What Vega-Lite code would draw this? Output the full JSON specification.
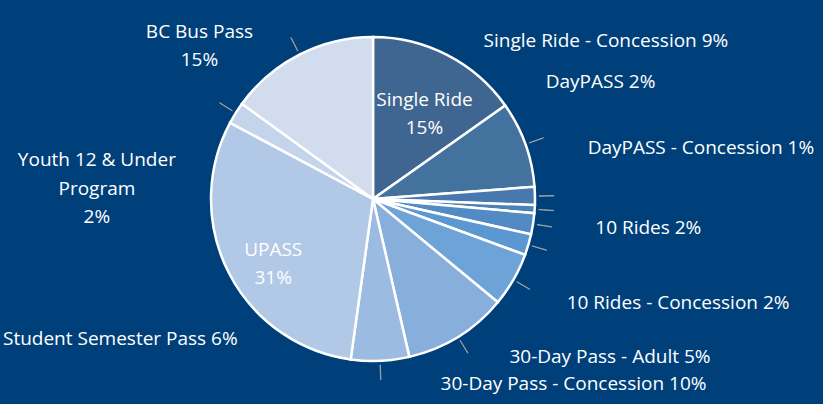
{
  "$schema": "https://vega.github.io/schema/vega-lite/v6.json",
  "width": 746,
  "height": 398,
  "autosize": {"type": "none"},
  "padding": {"left": 0, "top": 0, "right": 77, "bottom": 6},
  "background": "#00407A",
  "view": {"stroke": null},
  "data": {
    "values": [
      {"idx": 1, "cat": "Single Ride", "value": 15.2, "label": "Single Ride\n15%"},
      {"idx": 2, "cat": "Single Ride - Concession", "value": 8.6, "label": "Single Ride - Concession 9%"},
      {"idx": 3, "cat": "DayPASS", "value": 1.8, "label": "DayPASS 2%"},
      {"idx": 4, "cat": "DayPASS - Concession", "value": 0.8, "label": "DayPASS - Concession 1%"},
      {"idx": 5, "cat": "10 Rides", "value": 2.1, "label": "10 Rides 2%"},
      {"idx": 6, "cat": "10 Rides - Concession", "value": 2.1, "label": "10 Rides - Concession 2%"},
      {"idx": 7, "cat": "30-Day Pass - Adult", "value": 5.4, "label": "30-Day Pass - Adult 5%"},
      {"idx": 8, "cat": "30-Day Pass - Concession", "value": 10.4, "label": "30-Day Pass - Concession 10%"},
      {"idx": 9, "cat": "Student Semester Pass", "value": 5.8, "label": "Student Semester Pass 6%"},
      {"idx": 10, "cat": "UPASS", "value": 30.6, "label": "UPASS\n31%"},
      {"idx": 11, "cat": "Youth 12 & Under Program", "value": 2.2, "label": "Youth 12 & Under\nProgram\n2%"},
      {"idx": 12, "cat": "BC Bus Pass", "value": 15.0, "label": "BC Bus Pass\n15%"}
    ]
  },
  "transform": [
    {"window": [{"op": "sum", "field": "value", "as": "cum"}], "sort": [{"field": "idx"}], "frame": [null, 0]},
    {"calculate": "datum.cum - datum.value", "as": "start"},
    {"calculate": "datum.cum - datum.value / 2", "as": "mid"},
    {"calculate": "datum.mid + 0.03", "as": "mid2"},
    {"calculate": "datum.cat != 'Single Ride' && datum.cat != 'UPASS' ? 1 : 0", "as": "out"},
    {"calculate": "datum.mid < 47 ? 1 : 0", "as": "side"},
    {"window": [{"op": "row_number", "as": "rk"}, {"op": "count", "as": "n"}], "groupby": ["out", "side"], "sort": [{"field": "idx"}], "frame": [null, null]},
    {"calculate": "datum.side == 1 ? 9.72 + (datum.rk - 1) * 34.72 / (datum.n - 1) : 62.22 + (datum.rk - 1) * 27.22 / (datum.n - 1)", "as": "lab"}
  ],
  "layer": [
    {
      "mark": {"type": "arc", "radius": 162, "stroke": "#FFFFFF", "strokeWidth": 2.5},
      "encoding": {
        "theta": {"field": "start", "type": "quantitative", "scale": {"domain": [0, 100]}},
        "theta2": {"field": "cum"},
        "color": {
          "field": "cat",
          "type": "nominal",
          "legend": null,
          "scale": {
            "domain": ["Single Ride", "Single Ride - Concession", "DayPASS", "DayPASS - Concession", "10 Rides", "10 Rides - Concession", "30-Day Pass - Adult", "30-Day Pass - Concession", "Student Semester Pass", "UPASS", "Youth 12 & Under Program", "BC Bus Pass"],
            "range": ["#3F6690", "#44729F", "#4879AE", "#4C81B8", "#528BC4", "#5B97D0", "#6EA3D8", "#88AFDB", "#9CBBE2", "#B1C8E6", "#C4D4EB", "#D1DDEE"]
          }
        }
      }
    },
    {
      "transform": [{"filter": "datum.out == 1"}],
      "mark": {
        "type": "arc",
        "radius2": 166,
        "radius": 181,
        "fill": "#A6A6A6",
        "stroke": "#A6A6A6",
        "strokeWidth": 0.8
      },
      "encoding": {
        "theta": {"field": "mid", "type": "quantitative", "scale": {"domain": [0, 100]}},
        "theta2": {"field": "mid2"}
      }
    },
    {
      "transform": [{"filter": "datum.out == 1"}],
      "mark": {
        "type": "text",
        "font": "Open Sans",
        "fontSize": 19,
        "lineHeight": 28.5,
        "lineBreak": "\n",
        "color": "#FFFFFF",
        "baseline": "middle",
        "radius": {"expr": "datum.lab < 50 ? 178 + 45 * pow(sin(2 * PI * datum.lab / 100), 2) + 15 * max(0, -cos(2 * PI * datum.lab / 100)) : 192 + 6 * pow(sin(2 * PI * datum.lab / 100), 2)"},
        "align": {"expr": "datum.lab < 50 ? 'left' : (indexof(datum.label, '\\n') > 0 ? 'center' : 'right')"},
        "dx": {"expr": "datum.lab >= 50 && indexof(datum.label, '\\n') > 0 ? -4.9 * indexof(datum.label, '\\n') : 0"},
        "dy": {"expr": "-14.25 * (length(split(datum.label, '\\n')) - 1)"}
      },
      "encoding": {
        "theta": {"field": "lab", "type": "quantitative", "scale": {"domain": [0, 100]}},
        "text": {"field": "label"}
      }
    },
    {
      "transform": [{"filter": "datum.out == 0"}],
      "mark": {
        "type": "text",
        "font": "Open Sans",
        "fontSize": 19,
        "lineHeight": 28.5,
        "lineBreak": "\n",
        "color": "#FFFFFF",
        "baseline": "middle",
        "align": "center",
        "radius": 112
      },
      "encoding": {
        "theta": {"field": "mid", "type": "quantitative", "scale": {"domain": [0, 100]}},
        "text": {"field": "label"}
      }
    }
  ]
}
